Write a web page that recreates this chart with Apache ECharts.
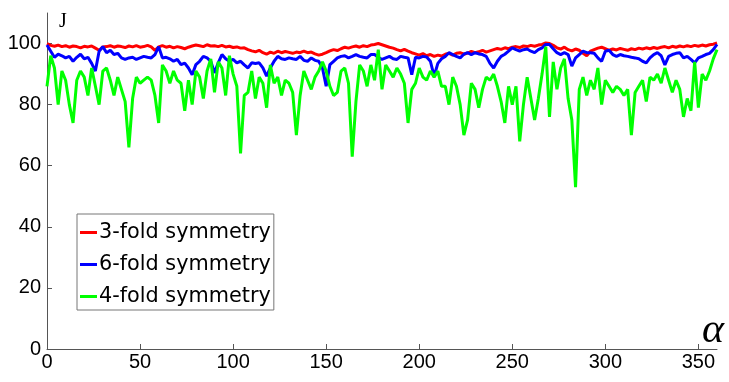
<!DOCTYPE html>
<html>
<head>
<meta charset="utf-8">
<script src="https://cdn.jsdelivr.net/npm/echarts@6/dist/echarts.min.js"></script>
<style>html,body{margin:0;padding:0;background:#fff}#c{width:729px;height:382px}</style>
</head>
<body>
<div id="c"></div>
<script>
const angles = [
0,2,4,6,8,10,12,14,16,18,
20,22,24,26,28,30,32,34,36,38,
40,42,44,46,48,50,52,54,56,58,
60,62,64,66,68,70,72,74,76,78,
80,82,84,86,88,90,92,94,96,98,
100,102,104,106,108,110,112,114,116,118,
120,122,124,126,128,130,132,134,136,138,
140,142,144,146,148,150,152,154,156,158,
160,162,164,166,168,170,172,174,176,178,
180,182,184,186,188,190,192,194,196,198,
200,202,204,206,208,210,212,214,216,218,
220,222,224,226,228,230,232,234,236,238,
240,242,244,246,248,250,252,254,256,258,
260,262,264,266,268,270,272,274,276,278,
280,282,284,286,288,290,292,294,296,298,
300,302,304,306,308,310,312,314,316,318,
320,322,324,326,328,330,332,334,336,338,
340,342,344,346,348,350,352,354,356,358,
360];

const fold3 = [
100,99.4,99.1,99.5,99.0,99.3,98.8,99.2,99.0,98.6,
99.1,98.9,99.2,98.5,97.8,98.9,99.0,99.3,98.8,99.2,
99.0,98.7,99.2,98.9,99.3,98.8,99.0,99.4,98.9,97.8,
98.9,99.3,98.8,99.1,98.6,99.0,98.7,98.3,98.8,99.2,
99.5,99.3,99.0,99.6,99.2,99.3,99.0,99.4,98.9,99.1,
98.7,98.9,98.5,98.6,98.0,97.6,97.3,97.8,97.0,96.5,
97.2,96.8,97.5,97.0,97.4,97.1,96.8,97.2,97.0,97.5,
97.0,97.2,96.6,96.2,96.5,97.0,97.6,98.0,97.7,98.3,
98.8,98.5,98.9,99.2,98.8,99.3,99.0,99.5,99.7,100.0,
99.6,99.2,98.8,98.5,98.0,97.6,98.1,97.5,97.0,96.6,
96.2,96.7,96.0,96.4,95.8,96.2,95.9,96.5,96.8,96.2,
96.8,97.0,96.5,96.9,97.4,97.0,97.3,97.8,97.2,97.6,
98.0,98.4,98.1,98.6,98.3,98.8,99.0,98.7,99.2,99.0,
99.4,99.1,99.5,99.7,100.2,100.0,99.4,98.6,98.2,98.8,
98.0,97.6,98.2,97.8,96.8,96.0,97.5,98.0,98.5,98.8,
98.3,97.8,98.2,97.9,98.4,98.1,97.8,98.3,98.0,98.5,
98.2,98.6,98.3,98.7,98.4,98.8,99.0,98.6,99.1,98.8,
99.2,98.9,99.3,99.0,99.4,99.1,99.5,99.2,99.6,99.8,
100.2];

const fold6 = [
99.5,97.5,95.5,96.5,96.0,95.3,95.8,94.2,95.5,96.5,
95.0,95.5,93.5,91.0,97.5,99.0,97.0,97.8,96.4,96.8,
95.3,94.8,95.3,95.5,94.8,95.3,95.8,95.5,95.3,96.4,
99.0,95.3,95.5,95.0,94.2,94.8,93.1,93.6,92.0,89.8,
93.1,94.2,95.8,95.3,94.2,90.4,93.7,96.4,95.0,94.2,
94.8,93.7,94.2,93.0,92.0,93.7,93.5,93.7,92.0,89.3,
92.0,94.2,95.8,95.0,94.8,95.3,95.0,94.8,95.8,94.5,
94.2,95.3,94.5,94.2,92.0,86.0,93.1,94.2,95.3,95.8,
96.0,95.3,95.8,96.4,95.8,95.5,95.3,96.4,96.4,95.5,
94.8,95.3,95.8,95.0,94.8,95.8,95.5,95.3,89.8,95.5,
95.3,95.8,95.6,94.2,89.3,93.5,95.0,95.8,97.0,96.4,
95.8,95.3,96.5,97.0,96.4,97.0,96.6,96.4,95.8,93.5,
92.0,94.2,95.8,96.5,97.5,98.6,98.0,97.5,98.0,98.2,
97.5,97.0,98.0,98.6,99.7,99.7,98.3,97.0,96.4,97.0,
96.4,92.6,95.3,96.4,97.5,97.0,97.0,96.8,95.3,94.2,
97.5,97.8,96.4,95.8,96.4,96.0,95.8,95.5,95.3,95.0,
94.2,93.7,95.3,96.4,97.0,96.0,93.0,95.8,96.4,96.8,
97.0,95.3,95.8,94.8,93.7,95.3,95.8,96.4,96.8,98.0,
99.7];

const fold4 = [
86,96,92,80,91,88,80,74,88,91,
89,83,92,86,80,91,92,88,83,89,
85,81,66,82,89,87,88,89,88,83,
74,93,91,87,91,88,87,78,88,80,
91,89,82,91,95,84,94,92,83,96,
90,86,64,83,84,91,82,89,87,79,
93,87,89,83,88,87,84,70,83,91,
88,85,89,91,94,91,86,83,84,91,
92,87,63,81,93,91,86,93,88,98,
85,93,91,89,92,90,87,74,85,87,
92,89,88,91,89,91,86,86,80,89,
86,80,70,75,87,85,79,85,89,88,
90,86,81,74,86,80,86,68,80,89,
82,75,82,90,99,76,94,85,92,95,
82,75,53,85,89,83,88,85,92,80,
88,86,84,86,85,83,85,70,84,86,
88,81,89,88,90,87,92,88,84,88,
85,76,82,78,94,79,90,88,91,95,
98];

const seriesNames = ['3-fold symmetry', '6-fold symmetry', '4-fold symmetry'];
const seriesColors = ['#ff0000', '#0000ff', '#00ff00'];
const xTicks = [0, 50, 100, 150, 200, 250, 300, 350];
const yTicks = [0, 20, 40, 60, 80, 100];

const pairs = vals => angles.map((a, i) => [a, vals[i]]);
const allVals = [fold3, fold6, fold4];

const chart = echarts.init(document.getElementById('c'), null, {renderer: 'canvas'});
chart.setOption({
  animation: false,
  backgroundColor: '#fff',
  grid: {left: 47, right: 12, top: 13, bottom: 33, containLabel: false},
  legend: {
    orient: 'vertical',
    left: 77, top: 214,
    backgroundColor: '#fff',
    borderColor: '#777',
    borderWidth: 1,
    borderRadius: 0,
    padding: [8, 3, 3, 3],
    itemWidth: 17, itemHeight: 3,
    itemGap: 11,
    icon: 'rect',
    data: seriesNames,
    textStyle: {fontFamily: 'DejaVu Sans', fontSize: 20.8, color: '#000', lineHeight: 20, padding: [0, 0, 0, -3]}
  },
  xAxis: {
    type: 'value', min: 0, max: 360,
    name: 'α', nameLocation: 'end', nameGap: -4,
    nameTextStyle: {fontFamily: 'Liberation Serif', fontStyle: 'italic', fontSize: 42, color: '#000', align: 'center', verticalAlign: 'bottom', padding: [0, 0, -3, 0]},
    axisLine: {show: true, lineStyle: {color: '#555', width: 1}},
    axisTick: {show: true, inside: true, length: 5, customValues: xTicks, lineStyle: {color: '#555'}},
    axisLabel: {customValues: xTicks, fontFamily: 'Liberation Sans', fontSize: 20, color: '#000', margin: 3},
    splitLine: {show: false}
  },
  yAxis: {
    type: 'value', min: 0, max: 110,
    name: 'J', nameLocation: 'end', nameGap: 1,
    nameTextStyle: {fontFamily: 'Liberation Serif', fontSize: 20, color: '#000', align: 'left', verticalAlign: 'top', padding: [0, 0, 0, 12]},
    axisLine: {show: true, lineStyle: {color: '#555', width: 1}},
    axisTick: {show: true, inside: true, length: 5, customValues: yTicks, lineStyle: {color: '#555'}},
    axisLabel: {customValues: yTicks, fontFamily: 'Liberation Sans', fontSize: 20, color: '#000', margin: 6},
    splitLine: {show: false}
  },
  series: seriesNames.map((n, k) => ({
    name: n, type: 'line', showSymbol: false, symbol: 'none',
    data: pairs(allVals[k]),
    lineStyle: {color: seriesColors[k], width: 3},
    itemStyle: {color: seriesColors[k]},
    z: 2 + k
  }))
});
</script>
</body>
</html>
